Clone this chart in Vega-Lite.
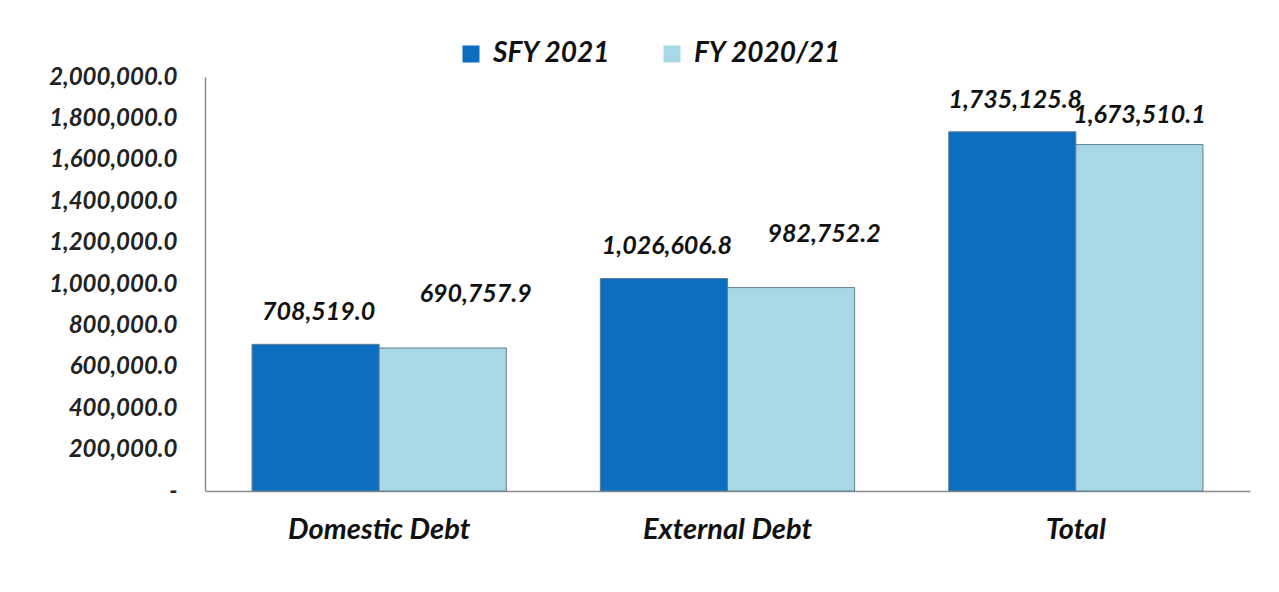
{
  "$schema": "https://vega.github.io/schema/vega-lite/v6.json",
  "autosize": "none",
  "width": 1045,
  "height": 414,
  "padding": {"left": 205, "top": 77, "right": 29, "bottom": 101},
  "background": "white",
  "config": {
    "view": {"stroke": null},
    "font": "Lato"
  },
  "data": {
    "values": [
      {"category": "Domestic Debt", "series": "SFY 2021", "value": 708519.0},
      {"category": "Domestic Debt", "series": "FY 2020/21", "value": 690757.9},
      {"category": "External Debt", "series": "SFY 2021", "value": 1026606.8},
      {"category": "External Debt", "series": "FY 2020/21", "value": 982752.2},
      {"category": "Total", "series": "SFY 2021", "value": 1735125.8},
      {"category": "Total", "series": "FY 2020/21", "value": 1673510.1}
    ]
  },
  "encoding": {
    "x": {
      "field": "category",
      "type": "nominal",
      "sort": ["Domestic Debt", "External Debt", "Total"],
      "scale": {"paddingInner": 0.27, "paddingOuter": 0.135},
      "axis": {
        "title": null,
        "labelAngle": 0,
        "ticks": false,
        "domainColor": "#8c8c8c",
        "domainWidth": 1.5,
        "labelFont": "Lato",
        "labelFontSize": 29,
        "labelFontWeight": "bold",
        "labelFontStyle": "italic",
        "labelColor": "#111111",
        "labelPadding": 24,
        "labelLimit": 400
      }
    },
    "xOffset": {
      "field": "series",
      "type": "nominal",
      "sort": ["SFY 2021", "FY 2020/21"],
      "scale": {"paddingInner": 0, "paddingOuter": 0}
    },
    "y": {
      "field": "value",
      "type": "quantitative",
      "scale": {"domain": [0, 2000000], "nice": false},
      "axis": {
        "title": null,
        "grid": false,
        "ticks": false,
        "values": [0, 200000, 400000, 600000, 800000, 1000000, 1200000, 1400000, 1600000, 1800000, 2000000],
        "labelExpr": "datum.value == 0 ? '-' : format(datum.value, ',.1f')",
        "domainColor": "#8c8c8c",
        "domainWidth": 1.5,
        "labelFont": "Lato",
        "labelFontSize": 24,
        "labelFontWeight": "bold",
        "labelFontStyle": "italic",
        "labelColor": "#222222",
        "labelPadding": 28,
        "labelLimit": 300
      }
    }
  },
  "layer": [
    {
      "mark": {"type": "bar", "stroke": "#5f7f93", "strokeWidth": 1},
      "encoding": {
        "color": {
          "field": "series",
          "type": "nominal",
          "sort": ["SFY 2021", "FY 2020/21"],
          "scale": {"domain": ["SFY 2021", "FY 2020/21"], "range": ["#0c6ec1", "#a8d8e6"]},
          "legend": {
            "title": null,
            "orient": "none",
            "legendX": 252,
            "legendY": -37,
            "direction": "horizontal",
            "symbolType": "square",
            "symbolSize": 289,
            "symbolStrokeWidth": 0,
            "labelFont": "Lato",
            "labelFontSize": 28,
            "labelFontWeight": "bold",
            "labelFontStyle": "italic",
            "labelColor": "#111111",
            "labelOffset": 8,
            "columnPadding": 47,
            "labelLimit": 300
          }
        }
      }
    },
    {
      "transform": [{"filter": "datum.series == 'SFY 2021'"}],
      "mark": {"type": "text", "baseline": "middle", "dy": -32, "dx": 3, "font": "Lato", "fontSize": 25, "fontWeight": "bold", "fontStyle": "italic", "color": "#111111"},
      "encoding": {"text": {"field": "value", "type": "quantitative", "format": ",.1f"}}
    },
    {
      "transform": [{"filter": "datum.series == 'FY 2020/21' && datum.category != 'Total'"}],
      "mark": {"type": "text", "baseline": "middle", "dy": -54, "dx": 33, "font": "Lato", "fontSize": 25, "fontWeight": "bold", "fontStyle": "italic", "color": "#111111"},
      "encoding": {"text": {"field": "value", "type": "quantitative", "format": ",.1f"}}
    },
    {
      "transform": [{"filter": "datum.series == 'FY 2020/21' && datum.category == 'Total'"}],
      "mark": {"type": "text", "baseline": "middle", "dy": -30, "font": "Lato", "fontSize": 25, "fontWeight": "bold", "fontStyle": "italic", "color": "#111111"},
      "encoding": {"text": {"field": "value", "type": "quantitative", "format": ",.1f"}}
    }
  ]
}
